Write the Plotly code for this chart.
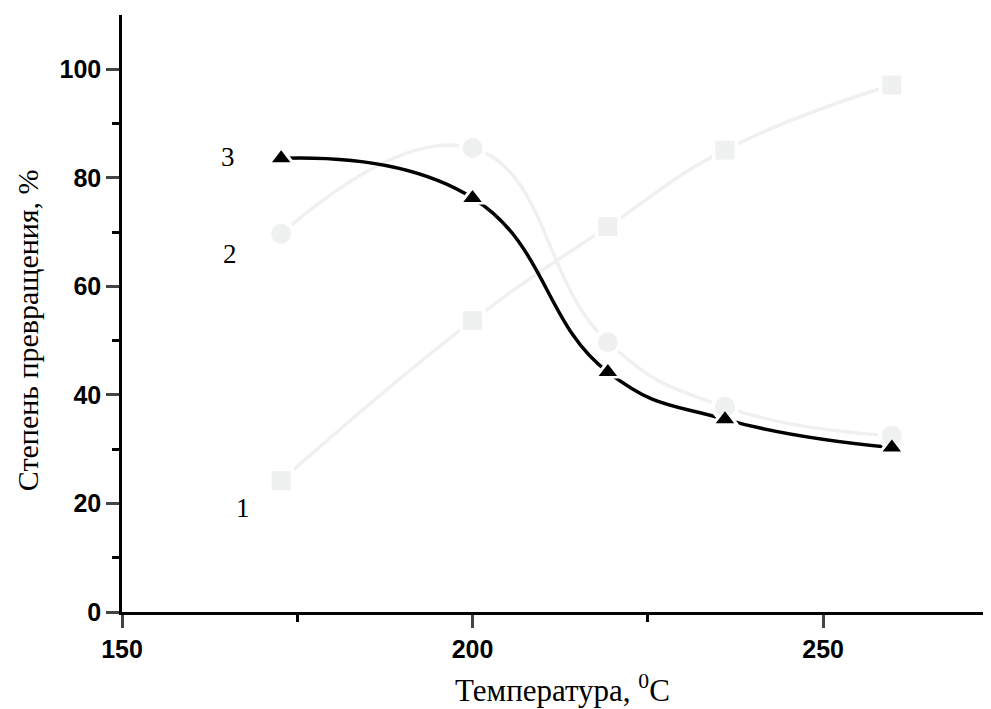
import plotly.graph_objects as go

temps = [172.7, 200, 219.3, 236, 259.8]
series1 = [24.2, 53.7, 71.0, 85.1, 97.1]   # squares
series2 = [69.7, 85.5, 49.7, 37.8, 32.5]   # circles
series3 = [83.6, 76.3, 44.2, 35.5, 30.3]   # triangles
curve_labels = ["1", "2", "3"]
label_x = [167.2, 165.4, 165.1]
label_y = [19.1, 66.0, 83.9]
x_title = "Температура, <sup>0</sup>C"
y_title = "Степень превращения, %"

GRAY = "#eff0f0"
SERIF = "Liberation Serif, Times New Roman, serif"
SANS = "Liberation Sans, Arial, sans-serif"
fig = go.Figure()

# lines
for ys, col, w in [(series1, GRAY, 3.5), (series2, GRAY, 3.5), (series3, "black", 3.5)]:
    fig.add_trace(go.Scatter(x=temps, y=ys, mode="lines",
                             line=dict(color=col, width=w, shape="spline", smoothing=1.3),
                             showlegend=False, hoverinfo="skip"))
# white halos to create gaps around markers
for ys, sym, sz in [(series1, "square", 26), (series2, "circle", 28), (series3, "triangle-up", 26)]:
    fig.add_trace(go.Scatter(x=temps, y=ys, mode="markers",
                             marker=dict(symbol=sym, size=sz, color="white"),
                             showlegend=False, hoverinfo="skip"))
# markers
fig.add_trace(go.Scatter(x=temps, y=series1, mode="markers",
                         marker=dict(symbol="square", size=19, color=GRAY), showlegend=False))
fig.add_trace(go.Scatter(x=temps, y=series2, mode="markers",
                         marker=dict(symbol="circle", size=20, color=GRAY), showlegend=False))
fig.add_trace(go.Scatter(x=temps, y=series3, mode="markers",
                         marker=dict(symbol="triangle-up", size=16, color="black"), showlegend=False))

for t, lx, ly in zip(curve_labels, label_x, label_y):
    fig.add_annotation(x=lx, y=ly, text=t, showarrow=False,
                       font=dict(family=SERIF, size=27, color="black"))

# axis titles as annotations (placed like the reference)
fig.add_annotation(xref="paper", yref="paper", x=0.507, y=0, yshift=-76, xanchor="center", yanchor="middle",
                   text=x_title, showarrow=False, font=dict(family=SERIF, size=31, color="black"))
fig.add_annotation(xref="paper", yref="paper", x=0, xshift=-95, y=0.472, xanchor="center", yanchor="middle",
                   text=y_title, textangle=-90, showarrow=False, font=dict(family=SERIF, size=30, color="black"))

# page body has an 8px margin, so the figure is placed at (8, 8)
fig.update_layout(
    width=983, height=701,
    margin=dict(l=114, r=1, t=7, b=97),
    plot_bgcolor="white", paper_bgcolor="white",
    xaxis=dict(range=[150, 273.8], tickvals=[150, 200, 250], ticks="outside", ticklen=13, tickwidth=2.5,
               showline=True, linecolor="black", linewidth=2.5, showgrid=False, zeroline=False,
               minor=dict(tickvals=[175, 225], ticks="outside", ticklen=7, tickwidth=2.5, tickcolor="black"),
               tickfont=dict(family=SANS, size=25, color="black", weight="bold")),
    yaxis=dict(range=[0, 110], tickvals=[0, 20, 40, 60, 80, 100], ticks="outside", ticklen=13, tickwidth=2.5,
               showline=True, linecolor="black", linewidth=2.5, showgrid=False, zeroline=False,
               minor=dict(tickvals=[10, 30, 50, 70, 90], ticks="outside", ticklen=7, tickwidth=2.5, tickcolor="black"),
               tickfont=dict(family=SANS, size=25, color="black", weight="bold")),
)
fig.write_html("out.html")
